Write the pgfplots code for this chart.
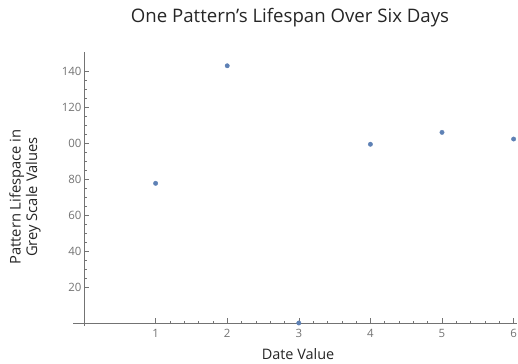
\documentclass[border=0pt]{standalone}
\usepackage{fontspec}
\setmainfont{Open Sans}
\usepackage{pgfplots}
\pgfplotsset{compat=1.18}
\definecolor{mblue}{rgb}{0.368417,0.506779,0.709798}
\definecolor{axgray}{rgb}{0.45,0.45,0.45}
\begin{document}
\begin{tikzpicture}
\useasboundingbox (-84bp,-41bp) rectangle (434bp,323bp);
\begin{axis}[
  at={(0,0)}, anchor=origin,
  x=71.6bp, y=1.8bp,
  xmin=-0.15, xmax=6.05, ymin=-1.7, ymax=150.5,
  axis lines=middle,
  axis line style={-, axgray, line width=0.6pt},
  xtick={1,2,3,4,5,6}, xticklabels={1,2,3,4,5,6},
  ytick={20,40,60,80,100,120,140}, yticklabels={20,40,60,80,00,120,140},
  minor x tick num=4, minor y tick num=3,
  tick align=inside,
  major tick length=5bp, minor tick length=2.5bp,
  tick style={axgray, line width=0.5pt},
  ticklabel style={font=\fontsize{11.5}{12}\selectfont, text=axgray},
  xticklabel style={yshift=-3bp},
  yticklabel style={xshift=1bp},
  clip=false,
]
\addplot[only marks, mark=*, mark size=2.2bp, mblue, mark options={draw=mblue, fill=mblue}]
  coordinates {(1,77.6) (2,142.9) (3,0) (4,99.3) (5,105.9) (6,102.2)};
\end{axis}
\node[text=black!85, font=\fontsize{18.7}{20}\selectfont] at (206bp,305bp) {One Pattern's Lifespan Over Six Days};
\node[text=black!85, font=\fontsize{14.5}{16}\selectfont, inner sep=1bp] at (214bp,-31bp) {Date Value};
\node[text=black!85, font=\fontsize{14.8}{16.5}\selectfont, rotate=90, align=center] at (-59bp,126bp) {Pattern Lifespace in\\Grey Scale Values};
\end{tikzpicture}
\end{document}
